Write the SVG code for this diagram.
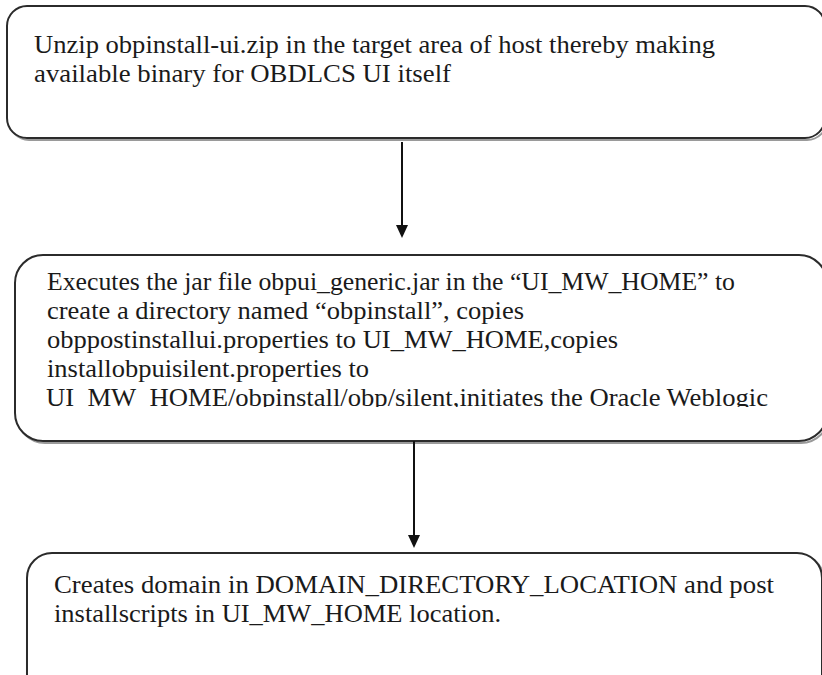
<svg xmlns="http://www.w3.org/2000/svg" width="822" height="675" viewBox="0 0 822 675">
  <defs>
    <style>
      .box { fill: #ffffff; stroke: #2b2b2b; stroke-width: 2; }
      .shadow { fill: none; stroke: #9a9a9a; stroke-width: 2; }
      .label { font-family: "Liberation Serif", "Times New Roman", serif; font-size: 25px; fill: #1a1a1a; }
      .edge { stroke: #111111; stroke-width: 2; fill: none; }
      .head { fill: #111111; }
    </style>
    <clipPath id="clip-step2">
      <rect x="0" y="254" width="822" height="153"/>
    </clipPath>
  </defs>
  <rect width="822" height="675" fill="#ffffff"/>

  <g id="step1">
    <rect class="shadow" x="9" y="8" width="818" height="132" rx="20"/>
    <rect class="box" x="7" y="6" width="818" height="132" rx="20"/>
    <text class="label" x="34" y="53" textLength="681" lengthAdjust="spacingAndGlyphs">Unzip obpinstall-ui.zip in the target area of host thereby making</text>
    <text class="label" x="34" y="82" textLength="417" lengthAdjust="spacingAndGlyphs">available binary for OBDLCS UI itself</text>
  </g>

  <g id="step2">
    <rect class="shadow" x="17" y="257" width="812" height="186" rx="28"/>
    <rect class="box" x="15" y="255" width="812" height="186" rx="28"/>
    <g clip-path="url(#clip-step2)">
      <text class="label" x="47" y="290" textLength="688" lengthAdjust="spacingAndGlyphs">Executes the jar file obpui_generic.jar in the “UI_MW_HOME” to</text>
      <text class="label" x="47" y="319" textLength="477" lengthAdjust="spacingAndGlyphs">create a directory named “obpinstall”, copies</text>
      <text class="label" x="47" y="348" textLength="571" lengthAdjust="spacingAndGlyphs">obppostinstallui.properties to UI_MW_HOME,copies</text>
      <text class="label" x="47" y="377" textLength="322" lengthAdjust="spacingAndGlyphs">installobpuisilent.properties to</text>
      <text class="label" x="46" y="406" textLength="722" lengthAdjust="spacingAndGlyphs">UI_MW_HOME/obpinstall/obp/silent,initiates the Oracle Weblogic</text>
    </g>
  </g>

  <g id="step3">
    <rect class="shadow" x="29" y="555" width="795" height="150" rx="25"/>
    <rect class="box" x="27" y="553" width="795" height="150" rx="25"/>
    <text class="label" x="54" y="593" textLength="720" lengthAdjust="spacingAndGlyphs">Creates domain in DOMAIN_DIRECTORY_LOCATION and post</text>
    <text class="label" x="54" y="622" textLength="447" lengthAdjust="spacingAndGlyphs">installscripts in UI_MW_HOME location.</text>
  </g>

  <g id="connectors">
    <line class="edge" x1="402" y1="142" x2="402" y2="226"/>
    <polygon class="head" points="396,225 408,225 402,238"/>
    <line class="edge" x1="414" y1="441" x2="414" y2="536"/>
    <polygon class="head" points="408,535 420,535 414,548"/>
  </g>
</svg>
